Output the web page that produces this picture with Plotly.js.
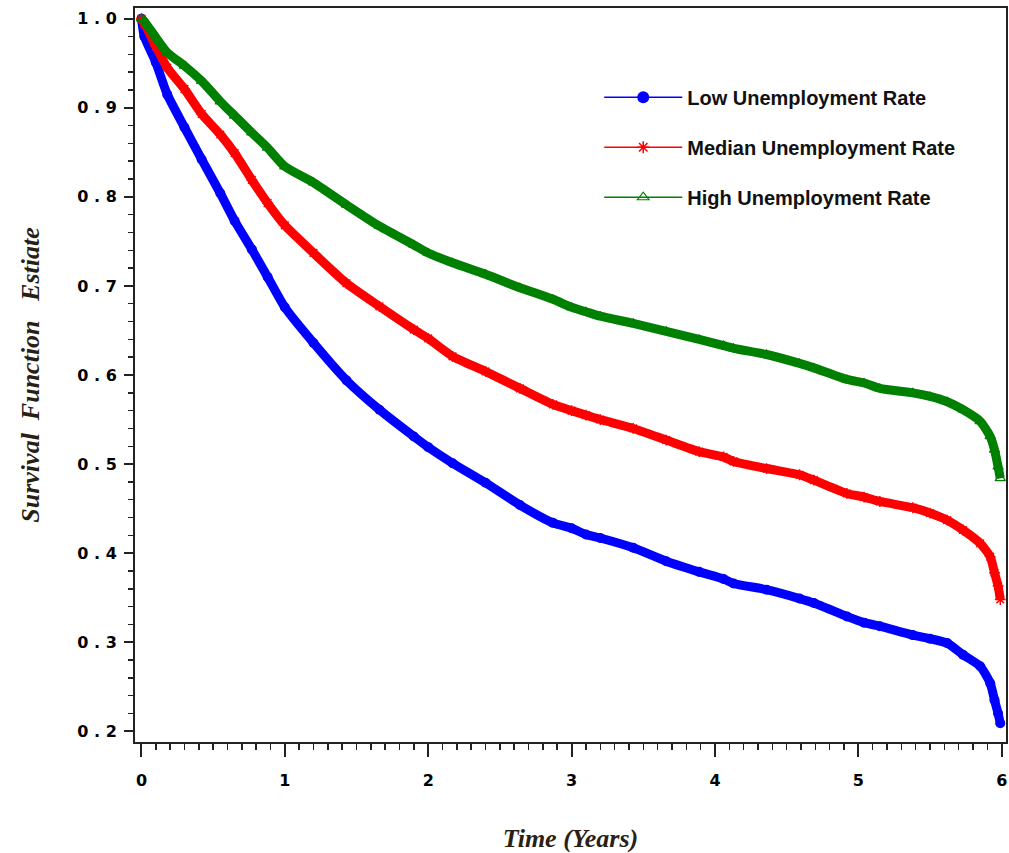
<!DOCTYPE html>
<html>
<head>
<meta charset="utf-8">
<script src="https://cdn.plot.ly/plotly-3.0.1.min.js"></script>
<style>
  html, body { margin: 0; padding: 0; background: #fff; }
  #chart { width: 1009px; height: 853px; }
</style>
</head>
<body>
<div id="chart"></div>
<script>
// Kaplan-Meier survival estimates by unemployment-rate group
const years = [0, 0.02, 0.1, 0.18, 0.3, 0.42, 0.55, 0.65, 0.77, 0.88, 1.0, 1.2, 1.43, 1.66, 1.9, 2.0, 2.17,
               2.4, 2.64, 2.87, 3.0, 3.1, 3.2, 3.43, 3.66, 3.89, 4.06, 4.13, 4.36, 4.59, 4.69, 4.92,
               5.04, 5.15, 5.38, 5.5, 5.62, 5.73, 5.85, 5.92, 5.95, 5.975, 5.99];

const lowRate = [1.0, 0.98, 0.951, 0.915, 0.878, 0.842, 0.804, 0.773, 0.741, 0.710, 0.676, 0.636, 0.594,
                 0.561, 0.531, 0.519, 0.501, 0.479, 0.454, 0.434, 0.428, 0.421, 0.417, 0.406, 0.391,
                 0.379, 0.371, 0.366, 0.359, 0.349, 0.344, 0.329, 0.322, 0.318, 0.308, 0.304, 0.299,
                 0.286, 0.273, 0.254, 0.235, 0.220, 0.209];

const medianRate = [1.0, 0.995, 0.969, 0.945, 0.921, 0.893, 0.870, 0.849, 0.819, 0.793, 0.768, 0.737,
                    0.703, 0.677, 0.651, 0.641, 0.621, 0.604, 0.585, 0.567, 0.560, 0.555, 0.550, 0.540,
                    0.527, 0.514, 0.508, 0.503, 0.495, 0.488, 0.482, 0.467, 0.463, 0.458, 0.451, 0.445,
                    0.437, 0.426, 0.411, 0.396, 0.378, 0.363, 0.348];

const highRate = [1.0, 0.997, 0.979, 0.962, 0.947, 0.930, 0.907, 0.891, 0.872, 0.855, 0.834, 0.816,
                  0.791, 0.767, 0.746, 0.737, 0.726, 0.713, 0.698, 0.685, 0.676, 0.671, 0.666, 0.658,
                  0.649, 0.640, 0.633, 0.630, 0.623, 0.613, 0.608, 0.595, 0.591, 0.585, 0.580, 0.576,
                  0.570, 0.561, 0.548, 0.531, 0.516, 0.497, 0.484];

const seriesNames = ['Low Unemployment Rate', 'Median Unemployment Rate', 'High Unemployment Rate'];

const xTickVals = [0, 1, 2, 3, 4, 5, 6];
const xTickText = ['0', '1', '2', '3', '4', '5', '6'];
const yTickVals = [0.2, 0.3, 0.4, 0.5, 0.6, 0.7, 0.8, 0.9, 1.0];
const yTickText = ['0 . 2', '0 . 3', '0 . 4', '0 . 5', '0 . 6', '0 . 7', '0 . 8', '0 . 9', '1 . 0'];

const styles = [
  { color: '#0000ff', symbol: 'circle', size: 10, legSize: 12, mline: 0 },
  { color: '#ff0000', symbol: 'asterisk-open', size: 9, legSize: 10, mline: 1.5 },
  { color: '#008000', symbol: 'triangle-up-open', size: 9, legSize: 10, mline: 1.2 }
];
const values = [lowRate, medianRate, highRate];

const traces = [];
// curves (thick bands of plotted estimates)
values.forEach((v, i) => {
  const s = styles[i];
  traces.push({
    x: years, y: v, type: 'scatter', mode: 'lines+markers',
    line: { color: s.color, width: 9, shape: 'spline', smoothing: 0.6 },
    marker: { color: s.color, symbol: s.symbol, size: s.size, line: { color: s.color, width: s.mline } },
    showlegend: false, hoverinfo: 'skip'
  });
});
// legend keys with thin connecting line
values.forEach((v, i) => {
  const s = styles[i];
  traces.push({
    x: [null], y: [null], type: 'scatter', mode: 'lines+markers', name: seriesNames[i],
    legendgroup: 'g' + i,
    line: { color: s.color, width: 1.5 },
    marker: { color: s.color, symbol: s.symbol, size: s.legSize, line: { color: s.color, width: s.mline } }
  });
});

const tickFont = { family: 'DejaVu Sans', size: 16, color: '#000', weight: 'bold' };
const titleFont = { family: 'Liberation Serif', size: 26, color: '#2a1f14', weight: 'bold', style: 'italic' };

const layout = {
  width: 1009, height: 853,
  margin: { l: 135, r: 3, t: 8, b: 111 },
  paper_bgcolor: '#fff', plot_bgcolor: '#fff',
  showlegend: true,
  legend: {
    x: 0.533, y: 0.905, xanchor: 'left', yanchor: 'top',
    font: { family: 'Liberation Sans', size: 20, color: '#111', weight: 'bold' },
    tracegroupgap: 21, itemwidth: 78, bgcolor: 'rgba(0,0,0,0)'
  },
  xaxis: {
    range: [-0.045, 6.03], tickmode: 'array', tickvals: xTickVals, ticktext: xTickText,
    ticks: 'outside', ticklen: 13, tickwidth: 2, tickcolor: '#222',
    minor: { tickmode: 'linear', tick0: 0, dtick: 0.1, ticks: 'outside', ticklen: 6, tickwidth: 1.5, tickcolor: '#222', showgrid: false },
    showline: true, linewidth: 2, linecolor: '#222', mirror: true,
    showgrid: false, zeroline: false, tickfont: tickFont, ticklabelstandoff: 10,
    title: { text: 'Time (Years)', font: titleFont, standoff: 40 }
  },
  yaxis: {
    range: [0.188, 1.012], tickmode: 'array', tickvals: yTickVals, ticktext: yTickText,
    ticks: 'outside', ticklen: 9, tickwidth: 2, tickcolor: '#222',
    minor: { tickmode: 'linear', tick0: 0.2, dtick: 0.02, ticks: 'outside', ticklen: 5, tickwidth: 1.5, tickcolor: '#222', showgrid: false },
    showline: true, linewidth: 2, linecolor: '#222', mirror: true,
    showgrid: false, zeroline: false, tickfont: tickFont, ticklabelstandoff: 4,
    title: { text: 'Survival\u00a0\u00a0Function\u00a0\u00a0\u00a0Estiate', font: titleFont, standoff: 30 }
  }
};

Plotly.newPlot('chart', traces, layout, { staticPlot: true, displayModeBar: false });
</script>
</body>
</html>
